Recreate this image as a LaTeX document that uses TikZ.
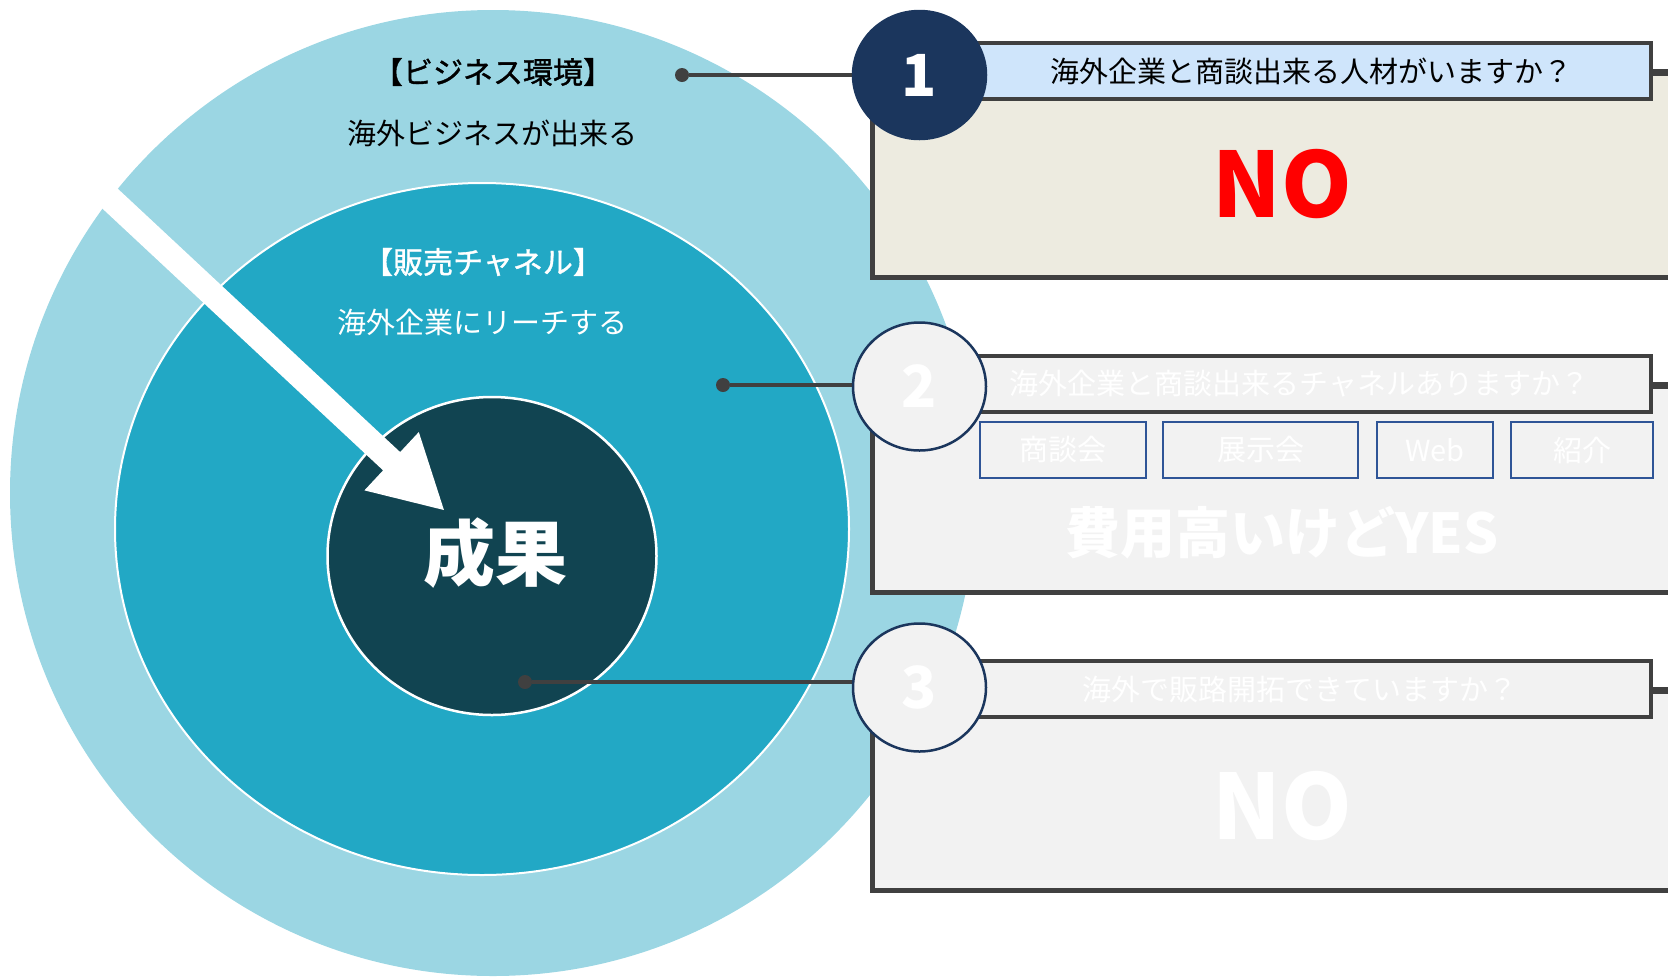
\documentclass[tikz,border=0pt]{standalone}
\usepackage{fontspec}
\setmainfont{Noto Sans CJK JP}
\newfontfamily\medfont{Noto Sans CJK JP}[FakeBold=1.2]
\usetikzlibrary{positioning,arrows.meta,shapes.geometric}

\definecolor{outerblue}{HTML}{9BD6E3}
\definecolor{midblue}{HTML}{22A8C5}
\definecolor{coreteal}{HTML}{114451}
\definecolor{navy}{HTML}{1B365D}
\definecolor{linegray}{HTML}{404040}
\definecolor{headblue}{HTML}{CFE5FB}
\definecolor{bodybeige}{HTML}{EDEBE0}
\definecolor{panelgray}{HTML}{F2F2F2}
\definecolor{chanblue}{HTML}{2F5597}

\tikzset{
  ringtitle/.style={font=\fontsize{30}{30}\medfont},
  ringtext/.style={font=\fontsize{29}{29}\selectfont},
  numcircle/.style={ellipse, minimum width=133pt, minimum height=128pt, inner sep=0pt,
    draw=navy, line width=2.5pt, text=white, font=\fontsize{58}{58}\selectfont\bfseries},
  headbox/.style={draw=linegray, line width=4pt, minimum height=56pt, minimum width=703pt,
    inner sep=0pt, anchor=east, font=\fontsize{29}{29}\selectfont},
  bodybox/.style={draw=linegray, line width=5pt, minimum width=824pt, inner sep=0pt, anchor=north west},
  chanbox/.style={draw=chanblue, line width=2pt, fill=panelgray, minimum height=56pt,
    inner sep=0pt, text=white, font=\fontsize{29}{29}\selectfont},
  answer/.style={font=\fontsize{90}{90}\selectfont\bfseries},
  leader/.style={draw=linegray, line width=4pt},
  leaddot/.style={circle, fill=linegray, minimum size=14pt, inner sep=0pt},
}

\begin{document}
\begin{tikzpicture}[x=1pt, y=-1pt]
    \useasboundingbox (0,0) rectangle (1668,978);
    \clip (0,0) rectangle (1668,978);
    % Rings
    \fill[outerblue] (493,493) circle (483);
    \draw[fill=midblue, draw=white, line width=2pt] (482,529) ellipse (367 and 346);
    \draw[fill=coreteal, draw=white, line width=2.5pt] (492,556) ellipse (164.5 and 159);
    % Arrow into the core
    \coordinate (arrowstart) at (59,151);
    \coordinate (arrowtip) at (445,511);
    \draw[white, line width=25pt, -{Triangle[length=73pt,width=74pt]}] (arrowstart) -- (arrowtip);
    % Ring labels
    \node[ringtitle] (envtitle) at (493,72) {【ビジネス環境】};
    \node[ringtext] (envtext) at (492,133) {海外ビジネスが出来る};
    \node[ringtitle, text=white] (chtitle) at (483,262) {【販売チャネル】};
    \node[ringtext, text=white] (chtext) at (482,322) {海外企業にリーチする};
    \node[text=white, font=\fontsize{72}{72}\selectfont\bfseries] (result) at (495,553) {成果};
    % Leaders
    \coordinate (n1) at (919.5,75);
    \coordinate (n2) at (919.5,386.5);
    \coordinate (n3) at (919.5,687.5);
    \foreach \n/\x/\y in {1/682/75, 2/723/385, 3/525/682} {
        \node[leaddot] (dot\n) at (\x,\y) {};
        \draw[leader] (dot\n) -- (dot\n -| n\n);
    }
    % Answer panels
    \node[bodybox, fill=bodybeige, minimum height=204pt] (body1) at (870,71) {};
    \node[bodybox, fill=panelgray, minimum height=206pt] (body2) at (870,384) {};
    \node[bodybox, fill=panelgray, minimum height=199pt] (body3) at (870,689) {};
    \node[answer, text=red] (ans1) at (1282,184) {NO};
    \node[answer, text=white, font=\fontsize{55}{55}\selectfont\bfseries] (ans2) at (1282,533) {費用高いけどYES};
    \node[answer, text=white] (ans3) at (1282,806) {NO};
    % Questions
    \node[headbox, fill=headblue, minimum width=680pt] (q1) at (1653,71) {海外企業と商談出来る人材がいますか？};
    \node[headbox, fill=panelgray, text=white] (q2) at (1653,384) {海外企業と商談出来るチャネルありますか？};
    \node[headbox, fill=panelgray, text=white] (q3) at (1653,689) {海外で販路開拓できていますか？};
    \coordinate (rightedge) at (1668,0);
    \foreach \q in {q1,q2,q3}
        \draw[leader] (\q.east) -- (\q.east -| rightedge);
    % Channels
    \foreach \cx/\w/\ch [count=\i] in {1063/166/商談会, 1260.5/195/展示会, 1435/116/Web, 1582/142/紹介}
        \node[chanbox, minimum width=\w pt] (chan\i) at (\cx,450) {\ch};
    % Number badges
    \node[numcircle, fill=navy] (num1) at (n1) {1};
    \node[numcircle, fill=panelgray] (num2) at (n2) {2};
    \node[numcircle, fill=panelgray] (num3) at (n3) {3};
\end{tikzpicture}
\end{document}
